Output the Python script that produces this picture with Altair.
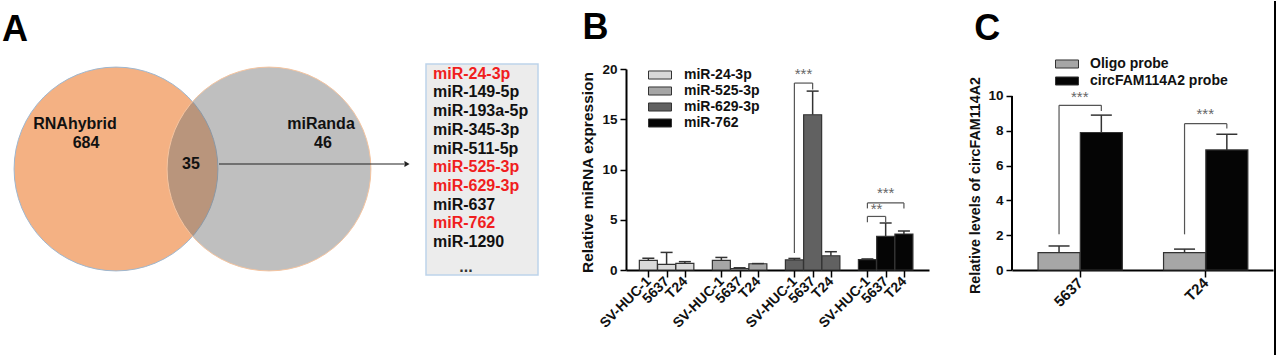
import json
import math
import pandas as pd
import altair as alt

FONT = "Liberation Sans"

# ---------------- data ----------------
# Panel A : Venn of predicted miRNAs
venn_sets = ["RNAhybrid", "miRanda"]
venn_only_counts = [684, 46]
venn_shared_count = 35
mirna_candidates = ["miR-24-3p", "miR-149-5p", "miR-193a-5p", "miR-345-3p", "miR-511-5p",
                    "miR-525-3p", "miR-629-3p", "miR-637", "miR-762", "miR-1290"]
mirna_selected = ["miR-24-3p", "miR-525-3p", "miR-629-3p", "miR-762"]

# Panel B : relative miRNA expression
b_mirnas = ["miR-24-3p", "miR-525-3p", "miR-629-3p", "miR-762"]
b_cells = ["SV-HUC-1", "5637", "T24"]
b_mean_24 = [0.95, 0.55, 0.65]
b_mean_525 = [0.95, 0.15, 0.62]
b_mean_629 = [1.0, 15.45, 1.42]
b_mean_762 = [1.03, 3.35, 3.58]
b_err_24 = [0.22, 1.2, 0.18]
b_err_525 = [0.3, 0.07, 0.02]
b_err_629 = [0.15, 2.35, 0.4]
b_err_762 = [0.07, 1.33, 0.3]
b_colors = ["#d9d9d9", "#a6a6a6", "#616161", "#050505"]
# brackets: (left pos, right pos, left foot, right foot, top, label, label y)
b_brackets = [(8, 9, 1.7, 17.95, 18.6, "***", 19.5),
              (12, 13, 4.75, 4.75, 5.33, "**", 6.07),
              (12, 14, 6.13, 6.13, 6.67, "***", 7.66)]

# Panel C : pull-down
c_cells = ["5637", "T24"]
c_probes = ["Oligo probe", "circFAM114A2 probe"]
c_mean_oligo = [1.0, 1.0]
c_mean_circ = [7.9, 6.9]
c_err_oligo = [0.38, 0.2]
c_err_circ = [1.0, 0.9]
c_colors = ["#a6a6a6", "#050505"]
c_brackets = [(0, 2.05, 9.14, 9.46, "***", 9.95),
              (1, 2.05, 8.13, 8.41, "***", 8.95)]

# ---------------- layout ----------------
H = 201
WA, WB, WC = 543, 303, 261
GAP = 83

# ---------------- panel A ----------------
def ax(f):
    return alt.X(f"{f}:Q", scale=alt.Scale(domain=[0, WA], nice=False, zero=False), axis=None)

def ay(f):
    return alt.Y(f"{f}:Q", scale=alt.Scale(domain=[68, 269], nice=False, zero=False, reverse=True), axis=None)

R = 115
circ_size = math.pi * R * R
circles = pd.DataFrame({"set": venn_sets, "x": [116, 269], "y": [168, 168]})
left_c = alt.Chart(circles.iloc[[0]]).mark_circle(
    size=circ_size, color="#f4b183", opacity=1, stroke="#9fb7cf", strokeWidth=1
).encode(x=ax("x"), y=ay("y"))
right_c = alt.Chart(circles.iloc[[1]]).mark_circle(
    size=circ_size, fill="#747474", fillOpacity=0.46, stroke="#f4c4a0", strokeWidth=1, strokeOpacity=1
).encode(x=ax("x"), y=ay("y"))

venn_txt = pd.DataFrame({
    "t": [venn_sets[0], str(venn_only_counts[0]), venn_sets[1], str(venn_only_counts[1]), str(venn_shared_count)],
    "x": [75, 86, 321, 323, 191],
    "y": [123, 142, 123, 142, 163],
})
venn_labels = alt.Chart(venn_txt).mark_text(
    fontSize=16, fontWeight="bold", color="#111", baseline="middle", align="center"
).encode(x=ax("x"), y=ay("y"), text="t:N")

arrow_df = pd.DataFrame({"x": [219], "x2": [404], "y": [163], "xh": [407]})
arrow_line = alt.Chart(arrow_df).mark_rule(color="#222", strokeWidth=1.2).encode(
    x=ax("x"), x2="x2:Q", y=ay("y"))
arrow_head = alt.Chart(arrow_df).mark_point(shape="triangle-right", filled=True, size=35, color="#222", opacity=1).encode(
    x=ax("xh"), y=ay("y"))

box_df = pd.DataFrame({"x": [426], "x2": [538], "y": [63], "y2": [274]})
box = alt.Chart(box_df).mark_rect(fill="#ececec", stroke="#bdd3ea", strokeWidth=1.5).encode(
    x=ax("x"), x2="x2:Q", y=ay("y"), y2="y2:Q")

list_df = pd.DataFrame({
    "t": mirna_candidates,
    "x": [433] * len(mirna_candidates),
    "y": [72.7 + 18.7 * i for i in range(len(mirna_candidates))],
    "c": ["#f01e1e" if m in mirna_selected else "#111111" for m in mirna_candidates],
})
list_txt = alt.Chart(list_df).mark_text(fontSize=16, fontWeight="bold", align="left", baseline="middle").encode(
    x=ax("x"), y=ay("y"), text="t:N", color=alt.Color("c:N", scale=None))
dots = alt.Chart(pd.DataFrame({"t": ["..."], "x": [466], "y": [271]})).mark_text(
    fontSize=16, fontWeight="bold", align="center", baseline="alphabetic", color="#333").encode(
    x=ax("x"), y=ay("y"), text="t:N")

letter_a = alt.Chart(pd.DataFrame({"t": ["A"], "x": [2], "y": [40]})).mark_text(
    fontSize=36, fontWeight="bold", align="left", baseline="alphabetic", color="#000").encode(
    x=ax("x"), y=ay("y"), text="t:N")

panel_a = alt.layer(left_c, right_c, box, arrow_line, arrow_head, venn_labels, list_txt, dots, letter_a).properties(
    width=WA, height=H)

# ---------------- panel B ----------------
b_means = [b_mean_24, b_mean_525, b_mean_629, b_mean_762]
b_errs = [b_err_24, b_err_525, b_err_629, b_err_762]
rows = []
for g, m in enumerate(b_mirnas):
    for i, c in enumerate(b_cells):
        rows.append({"mirna": m, "cell": c, "pos": 4 * g + i,
                     "mean": b_means[g][i], "upper": b_means[g][i] + b_errs[g][i]})
bdf = pd.DataFrame(rows)
b_positions = [int(v) for v in bdf["pos"]]

bx_scale = alt.Scale(domain=[-0.95, 15.1], nice=False, zero=False)
by_scale = alt.Scale(domain=[0, 20], nice=False)

b_xaxis = alt.Axis(values=b_positions, labelExpr=f"{json.dumps(b_cells)}[datum.value % 4]",
                   labelAngle=-45, labelAlign="right", labelBaseline="middle",
                   labelFontSize=14, labelFontWeight="bold", labelColor="#111",
                   labelOverlap=False, labelFlush=False,
                   tickSize=7, tickWidth=1.5, tickColor="#000", domainWidth=2, domainColor="#000",
                   grid=False, title=None, labelPadding=2)
b_yaxis = alt.Axis(values=[0, 5, 10, 15, 20], labelFontSize=13.5, labelFontWeight="bold", labelColor="#111",
                   tickSize=6, tickWidth=1.5, tickColor="#000", domainWidth=2, domainColor="#000",
                   grid=False, title="Relative miRNA expression", titleFontSize=15.5,
                   titleFontWeight="bold", titleColor="#111", titleX=-31, titleY=103,
                   titleBaseline="bottom", titleAngle=270, labelPadding=3)

def bX(f):
    return alt.X(f"{f}:Q", scale=bx_scale, axis=b_xaxis)

def bY(f):
    return alt.Y(f"{f}:Q", scale=by_scale, axis=b_yaxis)

b_bars = alt.Chart(bdf).mark_bar(size=18, stroke="#333", strokeWidth=1.2).encode(
    x=bX("pos"), y=bY("mean"),
    color=alt.Color("mirna:N", scale=alt.Scale(domain=b_mirnas, range=b_colors),
                    legend=alt.Legend(orient="none", legendX=22, legendY=-2, title=None,
                                      symbolType="M-1,-0.35H1V0.35H-1Z", symbolSize=529,
                                      symbolStrokeColor="#333", symbolStrokeWidth=1,
                                      labelFontSize=14, labelFontWeight="bold", labelColor="#111",
                                      labelOffset=12, rowPadding=0, clipHeight=16, padding=0)),
)
b_err_line = alt.Chart(bdf).mark_rule(color="#333", strokeWidth=1.5).encode(
    x=bX("pos"), y=bY("mean"), y2="upper:Q")
b_err_cap = alt.Chart(bdf).mark_tick(orient="horizontal", size=12, thickness=1.5, color="#333", opacity=1).encode(
    x=bX("pos"), y=bY("upper"))

seg = []
lab = []
for (xl, xr, fl, fr, top, t, ly) in b_brackets:
    seg.append({"x": xl, "x2": xl, "y": fl, "y2": top})
    seg.append({"x": xl, "x2": xr, "y": top, "y2": top})
    seg.append({"x": xr, "x2": xr, "y": fr, "y2": top})
    lab.append({"x": (xl + xr) / 2, "y": ly, "t": t})
b_seg = alt.Chart(pd.DataFrame(seg)).mark_rule(color="#555", strokeWidth=1.2).encode(
    x=bX("x"), x2="x2:Q", y=bY("y"), y2="y2:Q")
b_lab = alt.Chart(pd.DataFrame(lab)).mark_text(fontSize=15, color="#666", baseline="middle").encode(
    x=bX("x"), y=bY("y"), text="t:N")
letter_b = alt.Chart(pd.DataFrame({"t": ["B"], "x": [-3.6], "y": [23.0]})).mark_text(
    fontSize=36, fontWeight="bold", align="left", baseline="alphabetic", color="#000").encode(
    x=bX("x"), y=bY("y"), text="t:N")

panel_b = alt.layer(b_bars, b_err_line, b_err_cap, b_seg, b_lab, letter_b).properties(width=WB, height=H)

# ---------------- panel C ----------------
c_means = [c_mean_oligo, c_mean_circ]
c_errs = [c_err_oligo, c_err_circ]
c_off = [-0.165, 0.172]
crow = []
for p, probe in enumerate(c_probes):
    for i, cell in enumerate(c_cells):
        crow.append({"probe": probe, "cell": cell, "pos": i + 0.5 + c_off[p],
                     "mean": c_means[p][i], "upper": c_means[p][i] + c_errs[p][i]})
cdf = pd.DataFrame(crow)

cx_scale = alt.Scale(domain=[0, 2], nice=False, zero=False)
cy_scale = alt.Scale(domain=[0, 11.55], nice=False)

c_xaxis = alt.Axis(values=[0.5, 1.5], labelExpr=f"{json.dumps(c_cells)}[floor(datum.value)]",
                   labelAngle=-45, labelAlign="right", labelBaseline="middle",
                   labelFontSize=15, labelFontWeight="bold", labelColor="#111",
                   labelOverlap=False, labelFlush=False,
                   tickSize=7, tickWidth=1.5, tickColor="#000", domainWidth=2, domainColor="#000",
                   grid=False, title=None, labelPadding=3)
c_yaxis = alt.Axis(values=[0, 2, 4, 6, 8, 10], labelFontSize=13.5, labelFontWeight="bold", labelColor="#111",
                   tickSize=6, tickWidth=1.5, tickColor="#000", domain=False,
                   grid=False, title="Relative levels of circFAM114A2", titleFontSize=14.3,
                   titleFontWeight="bold", titleColor="#111", titleX=-30, titleY=116,
                   titleBaseline="bottom", titleAngle=270, labelPadding=3)

def cX(f):
    return alt.X(f"{f}:Q", scale=cx_scale, axis=c_xaxis)

def cY(f):
    return alt.Y(f"{f}:Q", scale=cy_scale, axis=c_yaxis)

c_bars = alt.Chart(cdf).mark_bar(size=42, stroke="#333", strokeWidth=1.2).encode(
    x=cX("pos"), y=cY("mean"),
    color=alt.Color("probe:N", scale=alt.Scale(domain=c_probes, range=c_colors),
                    legend=alt.Legend(orient="none", legendX=43, legendY=-13, title=None,
                                      symbolType="M-1,-0.35H1V0.35H-1Z", symbolSize=529,
                                      symbolStrokeColor="#333", symbolStrokeWidth=1,
                                      labelFontSize=14, labelFontWeight="bold", labelColor="#111",
                                      labelOffset=11, rowPadding=1, clipHeight=16, padding=0)),
)
c_err_line = alt.Chart(cdf).mark_rule(color="#333", strokeWidth=1.5).encode(
    x=cX("pos"), y=cY("mean"), y2="upper:Q")
c_err_cap = alt.Chart(cdf).mark_tick(orient="horizontal", size=21, thickness=1.5, color="#333", opacity=1).encode(
    x=cX("pos"), y=cY("upper"))

c_axis_line = alt.Chart(pd.DataFrame({"y": [0], "y2": [10]})).mark_rule(color="#000", strokeWidth=2).encode(
    x=alt.value(0), y=cY("y"), y2="y2:Q")

cseg = []
clab = []
for (gi, foot, rfoot, top, t, ly) in c_brackets:
    xl = gi + 0.5 + c_off[0]
    xr = gi + 0.5 + c_off[1]
    cseg.append({"x": xl, "x2": xl, "y": foot, "y2": top})
    cseg.append({"x": xl, "x2": xr, "y": top, "y2": top})
    cseg.append({"x": xr, "x2": xr, "y": rfoot, "y2": top})
    clab.append({"x": gi + 0.5, "y": ly, "t": t})
c_seg = alt.Chart(pd.DataFrame(cseg)).mark_rule(color="#555", strokeWidth=1.2).encode(
    x=cX("x"), x2="x2:Q", y=cY("y"), y2="y2:Q")
c_lab = alt.Chart(pd.DataFrame(clab)).mark_text(fontSize=15, color="#666", baseline="middle").encode(
    x=cX("x"), y=cY("y"), text="t:N")
letter_c = alt.Chart(pd.DataFrame({"t": ["C"], "x": [-0.34], "y": [13.2]})).mark_text(
    fontSize=36, fontWeight="bold", align="left", baseline="alphabetic", color="#000").encode(
    x=cX("x"), y=cY("y"), text="t:N")

border = alt.Chart(pd.DataFrame({"k": [0]})).mark_rule(color="#000", strokeWidth=2).encode(
    x=alt.value(263), y=alt.value(-68), y2=alt.value(287))

panel_c = alt.layer(c_bars, c_err_line, c_err_cap, c_axis_line, c_seg, c_lab, letter_c, border).properties(
    width=WC, height=H)

chart = alt.hconcat(panel_a, panel_b, panel_c, spacing=GAP, bounds="flush").resolve_scale(
    color="independent").properties(
    padding={"left": 0, "top": 0, "right": 0, "bottom": 0}
).configure(font=FONT).configure_view(stroke=None)

chart.save("out.html", embed_options={"renderer": "svg", "actions": False})
